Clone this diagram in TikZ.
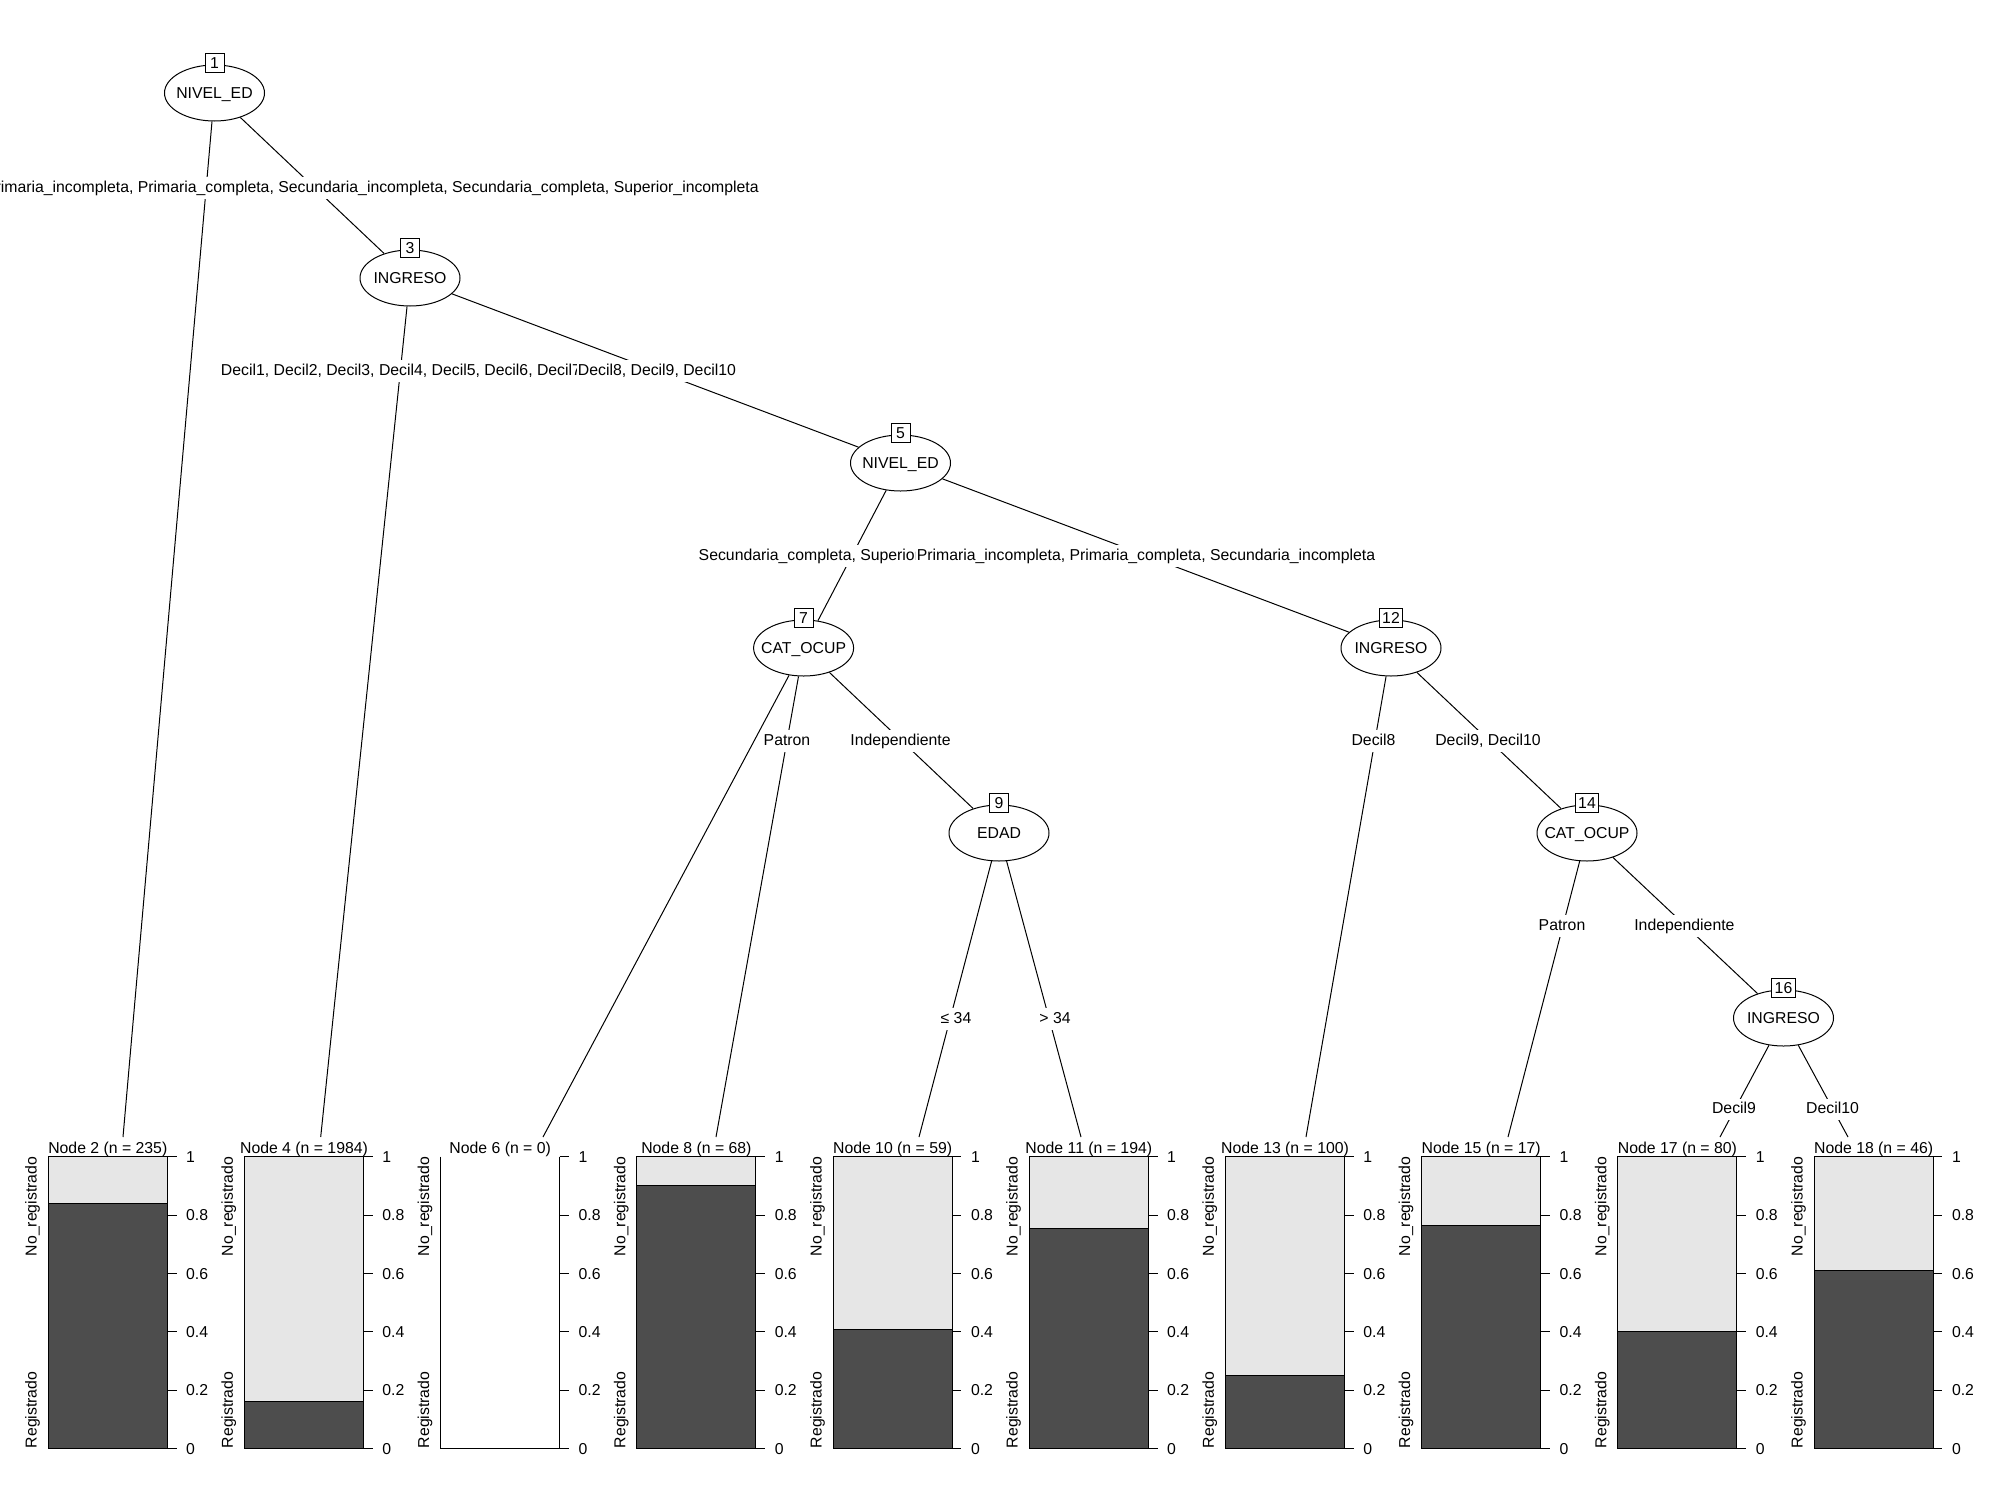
\documentclass[tikz,border=0pt]{standalone}
\usepackage{fontspec}
\setmainfont{Liberation Sans}
\usetikzlibrary{shapes.geometric}
\definecolor{darkbar}{HTML}{4D4D4D}
\definecolor{lightbar}{HTML}{E6E6E6}
\begin{document}
\begin{tikzpicture}[x=1pt,y=-1pt,
  every node/.style={font=\fontsize{15.8}{19}\selectfont},
  inner/.style={draw, ellipse, fill=white, minimum width=100pt, minimum height=56pt, inner sep=0pt, text height=11.4pt, text depth=0pt, line width=1pt},
  idbox/.style={draw, fill=white, minimum width=19pt, minimum height=19pt, inner xsep=3pt, inner ysep=0pt, text height=11.4pt, text depth=0pt, line width=1pt},
  elabel/.style={fill=white, inner xsep=1pt, inner ysep=3.5pt, text height=11.4pt, text depth=3pt},
  conn/.style={line width=1pt},
  barline/.style={line width=1pt},
  ticklab/.style={anchor=west, inner sep=0pt, text height=11.4pt, text depth=0pt},
  ylab/.style={inner sep=0pt},
  ptitle/.style={anchor=base, inner sep=0pt}
]
\useasboundingbox (0,0) rectangle (2000,1497);

% inner nodes
\node[inner] (n1) at (214.5,93) {\makebox[0pt]{NIVEL\_ED}};
\node[inner] (n3) at (410,278) {\makebox[0pt]{INGRESO}};
\node[inner] (n5) at (900.5,463) {\makebox[0pt]{NIVEL\_ED}};
\node[inner] (n7) at (803.6,648) {\makebox[0pt]{CAT\_OCUP}};
\node[inner] (n12) at (1391,648) {\makebox[0pt]{INGRESO}};
\node[inner] (n9) at (999,833) {\makebox[0pt]{EDAD}};
\node[inner] (n14) at (1587,833) {\makebox[0pt]{CAT\_OCUP}};
\node[inner] (n16) at (1783.5,1018) {\makebox[0pt]{INGRESO}};

\node[idbox] (b1) at (214.5,63) {1};
\node[idbox] (b3) at (410,248) {3};
\node[idbox] (b5) at (900.5,433) {5};
\node[idbox] (b7) at (803.6,618) {7};
\node[idbox] (b12) at (1391,618) {12};
\node[idbox] (b9) at (999,803) {9};
\node[idbox] (b14) at (1587,803) {14};
\node[idbox] (b16) at (1783.5,988) {16};

% terminal connection points
\coordinate (t2) at (123,1137);
\coordinate (t4) at (320.7,1137);
\coordinate (t6) at (543,1137);
\coordinate (t8) at (716,1137);
\coordinate (t10) at (919,1137);
\coordinate (t11) at (1081,1137);
\coordinate (t13) at (1306,1137);
\coordinate (t15) at (1508,1137);
\coordinate (t17) at (1720,1137);
\coordinate (t18) at (1848,1137);

% edges
\draw[conn] (n1) -- (t2);
\draw[conn] (n1) -- (n3);
\draw[conn] (n3) -- (t4);
\draw[conn] (n3) -- (n5);
\draw[conn] (n5) -- (n7);
\draw[conn] (n5) -- (n12);
\draw[conn] (n7) -- (t6);
\draw[conn] (n7) -- (t8);
\draw[conn] (n7) -- (n9);
\draw[conn] (n9) -- (t10);
\draw[conn] (n9) -- (t11);
\draw[conn] (n12) -- (t13);
\draw[conn] (n12) -- (n14);
\draw[conn] (n14) -- (t15);
\draw[conn] (n14) -- (n16);
\draw[conn] (n16) -- (t17);
\draw[conn] (n16) -- (t18);

% edge labels
\node[elabel, anchor=east] (l1r) at (760,188) {Primaria\_incompleta, Primaria\_completa, Secundaria\_incompleta, Secundaria\_completa, Superior\_incompleta};
\node[elabel] (l3l) at (401,371) {Decil1, Decil2, Decil3, Decil4, Decil5, Decil6, Decil7};
\node[elabel] (l3r) at (657,371) {Decil8, Decil9, Decil10};
\node[elabel] (l5l) at (852,556) {Secundaria\_completa, Superior\_incompleta};
\node[elabel] (l5r) at (1146,556) {Primaria\_incompleta, Primaria\_completa, Secundaria\_incompleta};
\node[elabel] (l7a) at (787,741) {Patron};
\node[elabel] (l7b) at (900.5,741) {Independiente};
\node[elabel] (l9l) at (956,1019) {≤ 34};
\node[elabel] (l9r) at (1055,1019) {> 34};
\node[elabel] (l12l) at (1373.5,741) {Decil8};
\node[elabel] (l12r) at (1488,741) {Decil9, Decil10};
\node[elabel] (l14l) at (1562,926) {Patron};
\node[elabel] (l14r) at (1684.4,926) {Independiente};
\node[elabel] (l16l) at (1734,1109.5) {Decil9};
\node[elabel] (l16r) at (1832.5,1109.5) {Decil10};

% terminal panels
\foreach \i/\k/\n/\f in {0/2/235/0.840, 1/4/1984/0.162, 2/6/0/0, 3/8/68/0.90, 4/10/59/0.408, 5/11/194/0.754, 6/13/100/0.250, 7/15/17/0.765, 8/17/80/0.402, 9/18/46/0.610}
{
  \pgfmathsetmacro\L{48.3+196.2*\i}
  \pgfmathsetmacro\R{\L+119}
  \pgfmathsetmacro\C{\L+59.5}
  \pgfmathsetmacro\B{1448.3-\f*291.6}
  \ifnum\k=6
    \draw[barline] (\L,1156.7) -- (\L,1448.3) -- (\R,1448.3);
  \else
    \draw[barline, fill=lightbar] (\L,1156.7) rectangle (\R,\B);
    \draw[barline, fill=darkbar] (\L,\B) rectangle (\R,1448.3);
  \fi
  \draw[barline] (\R,1156.7) -- (\R,1448.3);
  \foreach \t/\lab [count=\j] in {0/0, 0.2/0.2, 0.4/0.4, 0.6/0.6, 0.8/0.8, 1/1}
  {
    \pgfmathsetmacro\Y{1448.3-\t*291.6}
    \draw[barline] (\R,\Y) -- ({\R+9.3},\Y);
    \node[ticklab] (tk\k-\j) at ({\R+18.7},\Y) {\lab};
  }
  \node[ylab, rotate=90, anchor=base east] (yn\k) at ({\L-11.6},1156.7) {No\_registrado};
  \node[ylab, rotate=90, anchor=base west] (yr\k) at ({\L-11.6},1448.3) {Registrado};
  \node[ptitle] (title\k) at (\C,1153.5) {Node \k{} (n = \n)};
}
\end{tikzpicture}
\end{document}
